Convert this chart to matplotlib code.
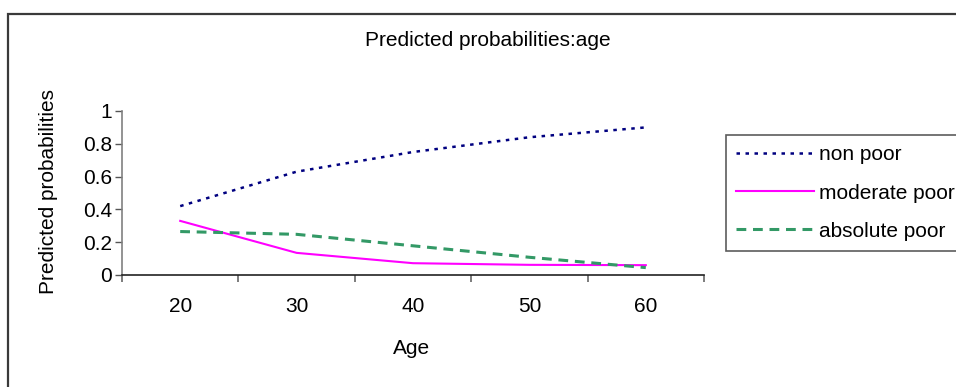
import matplotlib
matplotlib.use("Agg")
import matplotlib.pyplot as plt
from matplotlib.patches import Rectangle
from matplotlib.ticker import FormatStrFormatter

plt.rcParams['font.family'] = ['Liberation Sans', 'DejaVu Sans']

ages = ["20", "30", "40", "50", "60"]
non_poor = [0.42, 0.63, 0.75, 0.84, 0.90]
moderate_poor = [0.33, 0.135, 0.072, 0.062, 0.060]
absolute_poor = [0.265, 0.248, 0.178, 0.108, 0.045]

fs = 15
W, H = 956, 387
fig = plt.figure(figsize=(W / 100, H / 100), dpi=100)

# chart area border (only top and left edges fall inside the image)
fig.patches.append(Rectangle((7.5 / W, -0.2), 1.5, 1.2 - 13.5 / H,
                             transform=fig.transFigure, fill=False,
                             edgecolor='#3a3a3a', linewidth=1.6))

ax = fig.add_axes([122 / W, 1 - 275 / H, (704 - 122) / W, (275 - 111) / H])
x = list(range(len(ages)))
ax.plot(x, non_poor, color='#000080', lw=1.8, linestyle=(0, (1.4, 2.2)),
        dash_capstyle='butt', label='non poor')
ax.plot(x, moderate_poor, color='#FF00FF', lw=1.5, label='moderate poor')
ax.plot(x, absolute_poor, color='#339966', lw=2.2, linestyle=(0, (3.2, 2.2)),
        dash_capstyle='butt', label='absolute poor')

ax.set_xlim(-0.5, len(ages) - 0.5)
ax.set_ylim(0, 1)
ax.set_xticks([i - 0.5 for i in range(len(ages) + 1)])
ax.set_xticklabels([])
ax.set_xticks(x, minor=True)
ax.set_xticklabels(ages, minor=True)
ax.tick_params(axis='x', which='major', direction='out', length=5,
               color='#666666', width=1.2)
ax.tick_params(axis='x', which='minor', length=0, pad=16, labelsize=fs)
ax.set_yticks([0, 0.2, 0.4, 0.6, 0.8, 1.0])
ax.yaxis.set_major_formatter(FormatStrFormatter('%g'))
ax.tick_params(axis='y', direction='out', length=5, pad=2, labelsize=fs,
               color='#555555', width=1.0)

for side in ['top', 'right']:
    ax.spines[side].set_visible(False)
ax.spines['left'].set_color('#808080')
ax.spines['left'].set_linewidth(1.2)
ax.spines['bottom'].set_color('#222222')
ax.spines['bottom'].set_linewidth(1.2)

fig.text(488 / W, 1 - 40 / H, 'Predicted probabilities:age', fontsize=fs,
         ha='center', va='center')
fig.text(49 / W, 1 - 192 / H, 'Predicted probabilities', fontsize=fs,
         rotation=90, ha='center', va='center')
fig.text(412 / W, 1 - 348 / H, 'Age', fontsize=fs, ha='center', va='center')

leg = fig.legend(loc='upper left', mode='expand',
                 bbox_to_anchor=(726 / W, 1 - 248 / H, 0.3, (248 - 135) / H),
                 bbox_transform=fig.transFigure, fontsize=fs,
                 handlelength=3.7, handletextpad=0.25, labelspacing=0.92,
                 borderpad=0.5, borderaxespad=0, fancybox=False)
leg.get_frame().set_edgecolor('#333333')
leg.get_frame().set_linewidth(1.2)

fig.savefig('out.png', dpi=100)
